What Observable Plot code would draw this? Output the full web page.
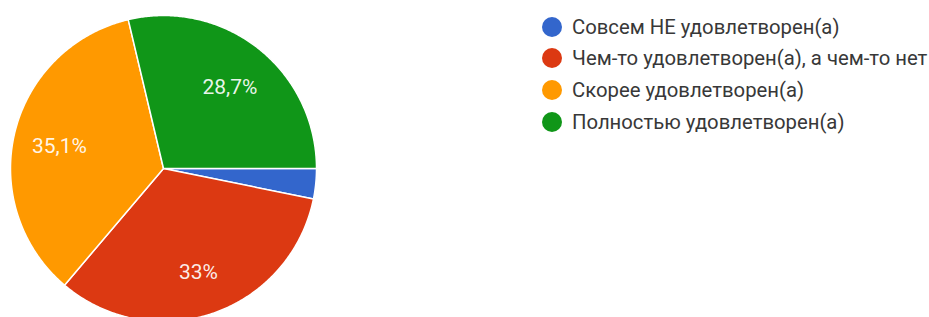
<!DOCTYPE html>
<html>
<head>
<meta charset="utf-8">
<script src="https://cdn.jsdelivr.net/npm/d3@7"></script>
<script src="https://cdn.jsdelivr.net/npm/@observablehq/plot@0.6"></script>
<style>
  html, body { margin: 0; padding: 0; background: #fff; }
  #wrap { position: relative; width: 929px; height: 317px; overflow: hidden; font-family: Roboto, "Noto Sans", sans-serif; }
  #legend { position: absolute; left: 542px; top: 0; }
  .item { position: absolute; left: 0; height: 24px; display: flex; align-items: center; white-space: nowrap; font-size: 20.3px; color: #383838; }
  .sw { width: 20px; height: 20px; border-radius: 50%; margin-right: 10px; flex: none; }
</style>
</head>
<body>
<div id="wrap"><div id="legend"></div></div>
<script>
const categories = [
  "Совсем НЕ удовлетворен(а)",
  "Чем-то удовлетворен(а), а чем-то нет",
  "Скорее удовлетворен(а)",
  "Полностью удовлетворен(а)"
];
const values = [3.2, 33, 35.1, 28.7];
const colors = ["#3366cc", "#dc3912", "#ff9900", "#109618"];
const labelShown = [false, true, true, true];

const total = d3.sum(values);
// angles measured clockwise (on screen) from east
let acc = 0;
const slices = values.map((v, i) => {
  const a0 = acc / total * 2 * Math.PI;
  acc += v;
  const a1 = acc / total * 2 * Math.PI;
  return {cat: categories[i], value: v, a0, a1, mid: (a0 + a1) / 2};
});

const pts = [];
for (const s of slices) {
  pts.push({cat: s.cat, x: 0, y: 0});
  const n = Math.max(2, Math.ceil((s.a1 - s.a0) / (Math.PI / 360)));
  for (let k = 0; k <= n; k++) {
    const a = s.a0 + (s.a1 - s.a0) * k / n;
    pts.push({cat: s.cat, x: Math.cos(a), y: -Math.sin(a)});
  }
  pts.push({cat: s.cat, x: 0, y: 0});
}

const labels = slices.filter((s, i) => labelShown[i]).map(s => ({
  x: 0.7 * Math.cos(s.mid),
  y: -0.7 * Math.sin(s.mid),
  text: String(s.value).replace(".", ",") + "%"
}));

const chart = Plot.plot({
  width: 929,
  height: 317,
  marginTop: 0, marginRight: 0, marginBottom: 0, marginLeft: 0,
  x: {domain: [-1, 1], range: [10, 316], axis: null},
  y: {domain: [-1, 1], range: [321, 15], axis: null},
  color: {domain: categories, range: colors},
  style: {fontFamily: "Roboto, 'Noto Sans', sans-serif", background: "transparent"},
  marks: [
    Plot.line(pts, {x: "x", y: "y", z: "cat", fill: "cat", stroke: "#fff", strokeWidth: 1.5, strokeLinejoin: "round"}),
    Plot.text(labels, {x: "x", y: "y", text: "text", fill: "#fff", fillOpacity: 0.92, fontSize: 21, dy: 3, textAnchor: "middle"})
  ]
});
document.getElementById("wrap").prepend(chart);

const rowsY = [27, 58, 90, 122];
const legend = document.getElementById("legend");
categories.forEach((c, i) => {
  const it = document.createElement("div");
  it.className = "item";
  it.style.top = (rowsY[i] - 12) + "px";
  const sw = document.createElement("span");
  sw.className = "sw";
  sw.style.background = colors[i];
  const t = document.createElement("span");
  t.textContent = c;
  it.append(sw, t);
  legend.append(it);
});
</script>
</body>
</html>
